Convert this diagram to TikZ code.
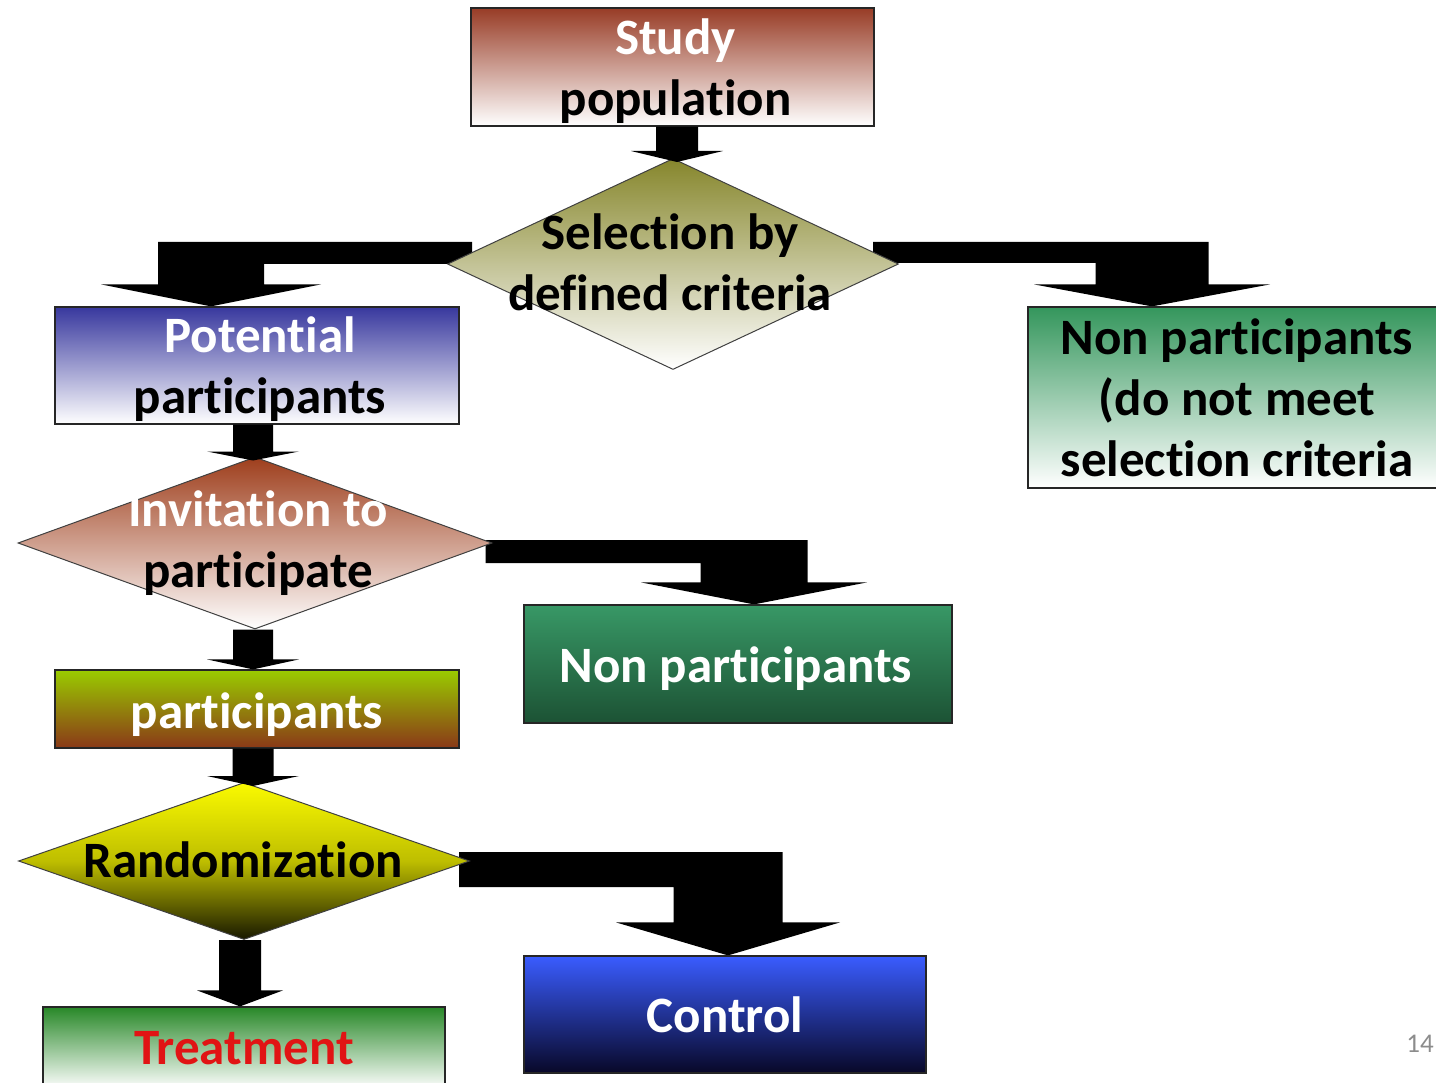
\documentclass[tikz,border=0pt]{standalone}
\usepackage{fontspec}
\setmainfont{Carlito}[Ligatures=NoCommon]
\usetikzlibrary{shapes.geometric,calc}
\pgfdeclarelayer{bg}
\pgfsetlayers{bg,main}
\newcommand{\bigfnt}{\fontsize{51}{61}\selectfont\bfseries}
% straight block arrow: source point, tip point, shaft width, head half width, head height
\newcommand{\dnarrow}[5]{%
  \fill[arrowfill] let \p1=(#1), \p2=(#2) in
  ({\x2-(#3)/2},\y1) -- ({\x2+(#3)/2},\y1) -- ({\x2+(#3)/2},{\y2+(#5)}) --
  ({\x2+(#4)},{\y2+(#5)}) -- (\x2,\y2) -- ({\x2-(#4)},{\y2+(#5)}) --
  ({\x2-(#3)/2},{\y2+(#5)}) -- cycle;}
% bent block arrow: bar start (top), tip, bar thickness, shaft width, head half width, head height, direction
\newcommand{\bentarrow}[7]{%
  \fill[arrowfill] let \p1=(#1), \p2=(#2) in
  (\x1,\y1) -- ({\x2+(#7)*(#4)/2},\y1) -- ({\x2+(#7)*(#4)/2},{\y2+(#6)}) --
  ({\x2+(#7)*(#5)},{\y2+(#6)}) -- (\x2,\y2) -- ({\x2-(#7)*(#5)},{\y2+(#6)}) --
  ({\x2-(#7)*(#4)/2},{\y2+(#6)}) -- ({\x2-(#7)*(#4)/2},{\y1-(#3)}) --
  (\x1,{\y1-(#3)}) -- cycle;}
\definecolor{studytop}{RGB}{152,60,38}
\definecolor{seltop}{RGB}{134,134,44}
\definecolor{pottop}{RGB}{56,56,158}
\definecolor{nonseltop}{RGB}{52,150,92}
\definecolor{invtop}{RGB}{158,62,28}
\definecolor{nptop}{RGB}{56,152,102}
\definecolor{npbot}{RGB}{28,82,52}
\definecolor{parttop}{RGB}{154,204,0}
\definecolor{partbot}{RGB}{138,56,24}
\definecolor{randtop}{RGB}{250,250,0}
\definecolor{randmid}{RGB}{190,190,0}
\definecolor{randbot}{RGB}{24,24,0}
\definecolor{treattop}{RGB}{40,136,40}
\definecolor{treattext}{RGB}{225,20,20}
\definecolor{ctrltop}{RGB}{58,92,255}
\definecolor{ctrlbot}{RGB}{8,8,40}
\begin{document}
\begin{tikzpicture}[x=1pt,y=-1pt,
  box/.style={draw=black!85, line width=1.2pt, rectangle, inner sep=0pt},
  dia/.style={draw=black!75, line width=1pt, diamond, inner sep=0pt},
  lbl/.style={font=\bigfnt, align=center, inner sep=0pt},
  arrowfill/.style={fill=black}]
\useasboundingbox (0,0) rectangle (1436,1083);
\clip (0,0) rectangle (1436,1083);

% shapes
\node[box, minimum width=403pt, minimum height=118pt, top color=studytop, bottom color=white]
  (study) at (672.5,67) {};
\node[dia, minimum width=451pt, minimum height=211pt, top color=seltop, bottom color=white]
  (sel) at (673,264) {};
\node[box, minimum width=404pt, minimum height=117pt, top color=pottop, bottom color=white]
  (pot) at (257,365.5) {};
\node[box, minimum width=418pt, minimum height=181pt, top color=nonseltop, bottom color=white]
  (nonsel) at (1237,397.5) {};
\node[dia, minimum width=474pt, minimum height=172pt, top color=invtop, bottom color=white]
  (inv) at (255,543) {};
\node[box, minimum width=428pt, minimum height=118pt, top color=nptop, bottom color=npbot]
  (nonpart) at (738,664) {};
\node[box, minimum width=404pt, minimum height=78pt, top color=parttop, bottom color=partbot]
  (part) at (257,709) {};
\node[dia, minimum width=451pt, minimum height=157pt, top color=randtop, bottom color=randbot, middle color=randmid]
  (rand) at (244,861) {};
\node[box, minimum width=402pt, minimum height=82pt, top color=treattop, bottom color=white]
  (treat) at (244,1048) {};
\node[box, minimum width=402pt, minimum height=117pt, top color=ctrltop, bottom color=ctrlbot]
  (control) at (725,1014.5) {};

% texts
\node[lbl] (studytxt) at ($(study.center)+(3,4)$) {{\color{white}Study}\\population};
\node[lbl] (seltxt) at (670,262) {Selection by\\defined criteria};
\node[lbl] (pottxt) at ($(pot.center)+(3,4)$) {{\color{white}Potential}\\participants};
\node[lbl] (nonseltxt) at ($(nonsel.center)+(0,0)$) {Non participants\\(do not meet\\selection criteria};
\node[lbl] (invtxt) at (258,543) {{\color{white}Invitation to}\\participate};
\node[lbl, text=white] (nonparttxt) at ($(nonpart.center)+(-2,5)$) {Non participants};
\node[lbl, text=white] (parttxt) at ($(part.center)+(0,6)$) {participants};
\node[lbl] (randtxt) at (243,860) {Randomization};
\node[lbl, text=treattext] (treattxt) at (treat.center) {Treatment};
\node[lbl, text=white] (controltxt) at (control.center) {Control};
\node[anchor=east, inner sep=0pt, font=\fontsize{27}{30}\selectfont, text=black!45] (page) at (1434,1044) {14};

% bent arrows (behind diamonds)
\begin{pgfonlayer}{bg}
\bentarrow{$(sel.east)+(-26,-22)$}{$(nonsel.north)+(-85,0)$}{21pt}{113pt}{118pt}{22pt}{1}
\bentarrow{$(sel.west)+(25,-22)$}{$(pot.north)+(-46,0)$}{22pt}{106pt}{110pt}{22pt}{-1}
\bentarrow{$(inv.east)+(-7,-3)$}{$(nonpart.north)+(16,0)$}{23pt}{107pt}{113pt}{22pt}{1}
\bentarrow{$(rand.east)+(-11,-9)$}{$(control.north)+(3,0)$}{35pt}{109pt}{112pt}{33pt}{1}
\end{pgfonlayer}

% straight arrows
\dnarrow{study.south}{$(sel.north)+(4,4)$}{42pt}{46pt}{11pt}
\dnarrow{pot.south}{$(inv.north)+(-2,4)$}{40pt}{46pt}{9pt}
\dnarrow{inv.south}{$(part.north)+(-4,0)$}{40pt}{46pt}{10pt}
\dnarrow{part.south}{$(rand.north)+(9,4)$}{41pt}{46pt}{10pt}
\dnarrow{rand.south}{$(treat.north)+(-4,0)$}{42pt}{43pt}{16pt}
\end{tikzpicture}
\end{document}
